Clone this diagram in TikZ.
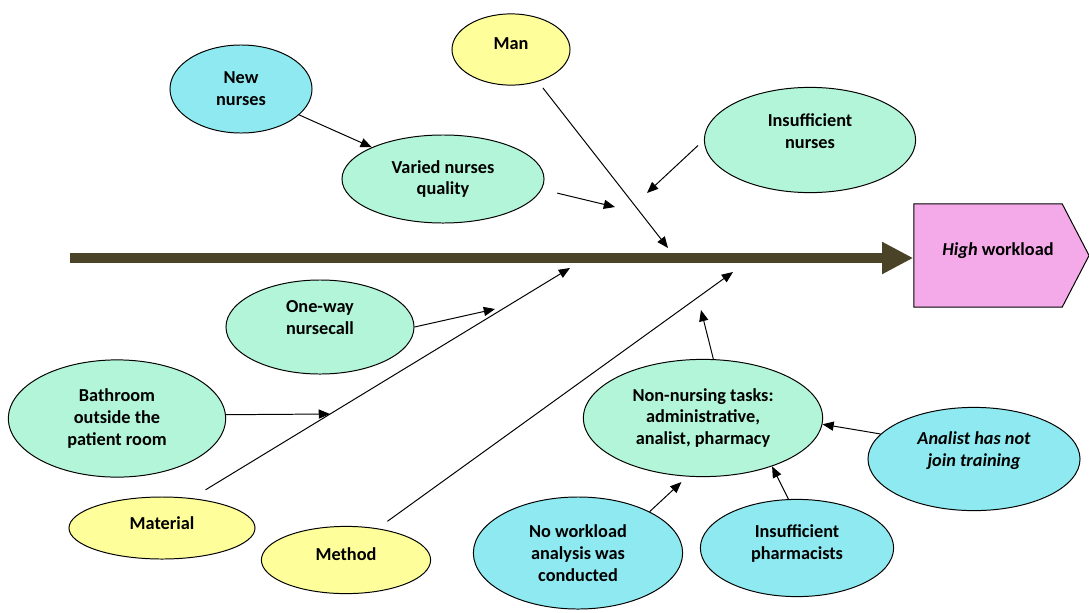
\documentclass[tikz,border=0pt]{standalone}
\usepackage{fontspec}
\setmainfont{Carlito}
\usepackage{tikz}
\usetikzlibrary{shapes,arrows.meta,calc}
\definecolor{spinecol}{RGB}{74,67,40}
\definecolor{cyanc}{RGB}{142,234,240}
\definecolor{mintc}{RGB}{178,245,216}
\definecolor{yellowc}{RGB}{254,254,154}
\definecolor{pinkc}{RGB}{244,170,232}
\newcommand{\sink}[1]{\rule[-#1]{0pt}{0pt}}

\begin{document}
\begin{tikzpicture}[x=0.025cm, y=-0.025cm,
    bubble/.style={draw, ellipse, line width=0.7pt, inner sep=0pt, align=center, font=\bfseries\fontsize{13}{15.6}\selectfont},
    cause/.style={-{Triangle[length=8pt,width=6.5pt]}, line width=0.7pt},
    spine/.style={draw=spinecol, line width=7pt, -{Triangle[length=0.78cm,width=0.75cm]}}]
    \useasboundingbox (0,0) rectangle (1089,612);

    \node [bubble, fill=yellowc, minimum width=2.95cm, minimum height=1.78cm] (man) at (511,49.5) {Man\sink{8.5pt}};
    \node [bubble, fill=cyanc, minimum width=3.55cm, minimum height=2.2cm] (newn) at (241,89) {New\\nurses};
    \node [bubble, fill=mintc, minimum width=5.05cm, minimum height=2.2cm] (varied) at (443,179) {Varied nurses\\quality};
    \node [bubble, fill=mintc, minimum width=5.28cm, minimum height=2.63cm] (insn) at (810,140) {Insufficient\\nurses\sink{13pt}};
    \node [draw, signal, signal to=east, signal pointer angle=125, fill=pinkc, line width=0.7pt, inner sep=0pt,
        minimum width=4.38cm, minimum height=2.58cm, font=\bfseries\fontsize{13}{15.6}\selectfont] (high) at (988,255.5) {\hspace*{0.5cm}\textit{High} workload\sink{9.5pt}};

    \node [bubble, fill=mintc, minimum width=4.7cm, minimum height=2.35cm] (oneway) at (320,327) {One-way\\nursecall\sink{14pt}};
    \node [bubble, fill=mintc, minimum width=5.43cm, minimum height=2.93cm] (bath) at (117,418.5) {Bathroom\\outside the\\patient room};
    \node [bubble, fill=yellowc, minimum width=4.65cm, minimum height=1.55cm] (mat) at (162,528) {Material\sink{7pt}};
    \node [bubble, fill=yellowc, minimum width=4.23cm, minimum height=1.68cm] (meth) at (346,560) {Method\sink{8.5pt}};
    \node [bubble, fill=mintc, minimum width=5.98cm, minimum height=2.93cm] (nonn) at (703,418) {Non-nursing tasks:\\administrative,\\analist, pharmacy};
    \node [bubble, fill=cyanc, minimum width=5.23cm, minimum height=2.8cm] (nowl) at (578,553) {No workload\\analysis was\\conducted};
    \node [bubble, fill=cyanc, minimum width=4.83cm, minimum height=2.43cm] (inspharm) at (797,548) {Insufficient\\pharmacists\sink{8pt}};
    \node [bubble, fill=cyanc, minimum width=5.3cm, minimum height=2.58cm,
        font=\bfseries\itshape\fontsize{13}{15.6}\selectfont] (analist) at (974,459) {Analist has not\\join training\sink{13.8pt}};

    % free ends of the bones
    \coordinate (tail) at (70,258);
    \coordinate (manend) at (668,248);
    \coordinate (matend) at (570,268);
    \coordinate (methend) at (733,272);
    \coordinate (vhead) at (615,207);
    \coordinate (nhead) at (647,193);
    \coordinate (ohead) at (495,309);
    \coordinate (bhead) at (330,414);
    \coordinate (thead) at (701,310);

    \draw [spine] (tail) -- (tail -| high.west);
    \draw [cause, shorten <=0.2cm] (man.-50) -- (manend);
    \draw [cause, shorten <=0.4cm] (mat.45) -- (matend);
    \draw [cause, shorten <=0.3cm] (meth.45) -- (methend);

    \draw [cause] (newn) -- (varied);
    \draw [cause, shorten <=0.4cm] (varied.-6) -- (vhead);
    \draw [cause, shorten <=0.2cm] (insn.west) -- (nhead);
    \draw [cause] (oneway.east) -- (ohead);
    \draw [cause] (bath.2) -- (bhead);
    \draw [cause] (nonn.80) -- (thead);
    \draw [cause, shorten >=0.2cm] (nowl.30) -- (nonn.255);
    \draw [cause] (inspharm.100) -- (nonn.-35);
    \draw [cause] (analist.165) -- (nonn.-3);
\end{tikzpicture}
\end{document}
